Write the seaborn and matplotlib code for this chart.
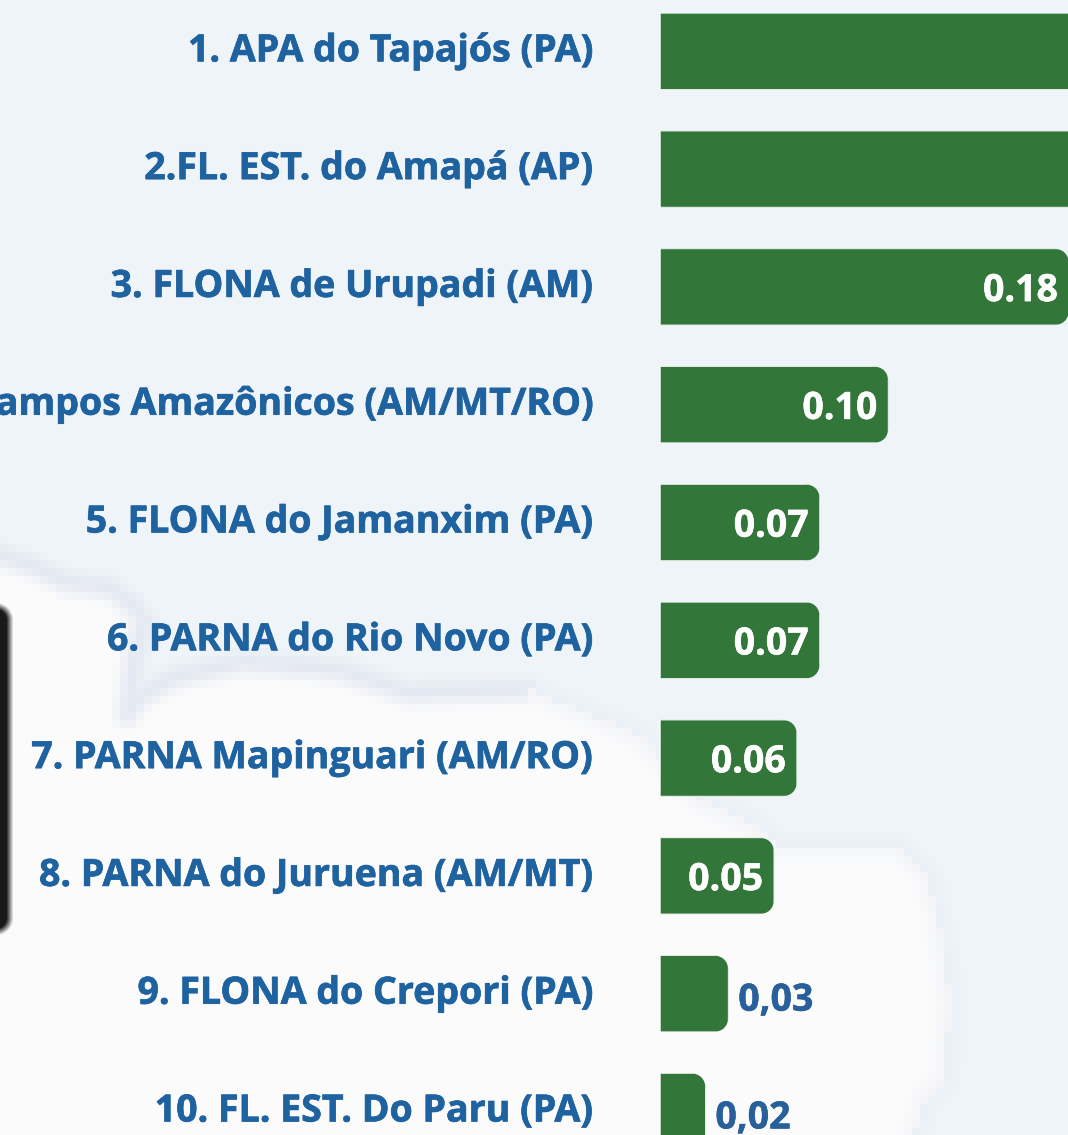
import numpy as np
import pandas as pd
import matplotlib
matplotlib.use("Agg")
import matplotlib.pyplot as plt
import matplotlib.patheffects as pe
import seaborn as sns
from matplotlib.path import Path
from matplotlib.patches import FancyBboxPatch
from matplotlib.transforms import IdentityTransform

# data
categories = [
    "1. APA do Tapajós (PA)",
    "2.FL. EST. do Amapá (AP)",
    "3. FLONA de Urupadi (AM)",
    "4. PARNA Campos Amazônicos (AM/MT/RO)",
    "5. FLONA do Jamanxim (PA)",
    "6. PARNA do Rio Novo (PA)",
    "7. PARNA Mapinguari (AM/RO)",
    "8. PARNA do Juruena (AM/MT)",
    "9. FLONA do Crepori (PA)",
    "10. FL. EST. Do Paru (PA)",
]
values = [0.25, 0.22, 0.179, 0.10, 0.07, 0.07, 0.06, 0.05, 0.03, 0.02]
value_labels = ["", "", "0.18", "0.10", "0.07", "0.07", "0.06", "0.05", "0,03", "0,02"]

W, H = 1068, 1135
BG = np.array([0xef, 0xf4, 0xf9]) / 255
LAND = np.array([0xfb, 0xfb, 0xfc]) / 255
EDGE = np.array([0xe2, 0xe6, 0xf0]) / 255
GREEN = "#327639"
BLUE = "#1f62a0"
PX_PER_UNIT = 2285
ZERO_X = 660
BAR_Y0, BAR_STEP, BAR_H = 51.3, 117.8, 76.8
PT = 0.72  # points per pixel at dpi 100

sns.set_theme(style="white")
plt.rcParams["font.family"] = ["Open Sans", "DejaVu Sans"]

df = pd.DataFrame({"area": categories, "value": values})

fig = plt.figure(figsize=(W / 100, H / 100), dpi=100)

# -------- BACKGROUND (blurry low-res map behind the chart) --------
ax_bg = fig.add_axes([0, 0, 1, 1])
ax_bg.axis("off")
outline = np.array([
    (-10, 552), (33, 567), (67, 583), (110, 588), (133, 607), (143, 620), (133, 660),
    (127, 715), (140, 697), (177, 677), (243, 663), (337, 670), (408, 693), (530, 690),
    (640, 735), (700, 800), (750, 823), (780, 847), (897, 847), (927, 873), (940, 927),
    (950, 1000), (945, 1080), (925, 1100), (912, 1145), (-10, 1145),
], dtype=float)
cell = 8
gx, gy = np.meshgrid(np.arange(cell / 2, W + cell, cell), np.arange(cell / 2, H + cell, cell))
pts = np.column_stack([gx.ravel(), gy.ravel()])
inside = Path(outline).contains_points(pts).reshape(gx.shape)
dist = np.full(gx.shape, 1e9)
strength = np.zeros(gx.shape)
for a, b in zip(outline[:-2], outline[1:-1]):
    ab = b - a
    t = np.clip(((gx - a[0]) * ab[0] + (gy - a[1]) * ab[1]) / (ab @ ab), 0, 1)
    d = np.hypot(gx - a[0] - t * ab[0], gy - a[1] - t * ab[1])
    s = 0.9 if a[0] < 420 else 0.3
    closer = d < dist
    dist[closer] = d[closer]
    strength[closer] = s
img = np.where(inside[..., None], LAND, BG)
band = (np.clip(1 - dist / 18, 0, 1) * strength)[..., None]
img = img * (1 - band) + EDGE * band
ax_bg.imshow(img, extent=(0, gx.shape[1] * cell, gy.shape[0] * cell, 0), aspect="auto",
             interpolation="nearest")

# blurred dark box cut off at the left edge
xx, yy = np.meshgrid(np.arange(0, 24) + 0.5, np.arange(590, 950) + 0.5)
qx = np.abs(xx + 50) - 46
qy = np.abs(yy - 769) - 149
sd = np.hypot(np.maximum(qx, 0), np.maximum(qy, 0)) + np.minimum(np.maximum(qx, qy), 0) - 14
shade = np.zeros(xx.shape + (4,))
shade[..., :3] = 0.1
shade[..., 3] = np.clip(0.5 - sd / 7, 0, 1)
ax_bg.imshow(shade, extent=(0, 24, 950, 590), aspect="auto", interpolation="bilinear")
ax_bg.set_xlim(0, W)
ax_bg.set_ylim(H, 0)

# -------- BARS --------
ax = fig.add_axes([0, 0, 1, 1])
ax.patch.set_alpha(0)
sns.barplot(data=df, x="value", y="area", color=GREEN, saturation=1, width=BAR_H / BAR_STEP, ax=ax)
ax.set_xlim(-ZERO_X / PX_PER_UNIT, (W - ZERO_X) / PX_PER_UNIT)
ax.set_ylim((H - BAR_Y0) / BAR_STEP, -BAR_Y0 / BAR_STEP)
ax.set_xlabel("")
ax.set_ylabel("")
ax.set_xticks([])
ax.set_yticks([])
sns.despine(ax=ax, left=True, bottom=True)

# rounded right corners
for bar in ax.patches:
    (x0, y0), (x1, y1) = ax.transData.transform(
        [(bar.get_x(), bar.get_y()), (bar.get_x() + bar.get_width(), bar.get_y() + bar.get_height())]
    )
    y0, y1 = min(y0, y1), max(y0, y1)
    r = 17
    clip = FancyBboxPatch((x0 - 30 + r, y0 + r), x1 - x0 + 30 - 2 * r, y1 - y0 - 2 * r,
                          boxstyle=f"round,pad={r},rounding_size={r}", transform=IdentityTransform())
    bar.set_snap(False)
    bar.set_clip_path(clip)

# category labels, right aligned left of the bars
for i, name in enumerate(categories):
    t = ax.annotate(name, xy=(0, i), xytext=(-67 * PT, 0), textcoords="offset points",
                    ha="right", va="center", fontsize=27, fontweight="bold", color=BLUE,
                    annotation_clip=False)
    t.set_path_effects([pe.withStroke(linewidth=0.5, foreground=BLUE)])

# value labels
for i, (v, txt) in enumerate(zip(values, value_labels)):
    if txt == "":
        continue
    inside_bar = v >= 0.05
    col = "white" if inside_bar else "#27609a"
    offset = (-8, -3) if inside_bar else (7, -5)
    t = ax.annotate(txt, xy=(v, i), xytext=offset, textcoords="offset points",
                    ha="right" if inside_bar else "left", va="center", fontsize=27,
                    fontweight="bold", color=col, annotation_clip=False)
    t.set_path_effects([pe.withStroke(linewidth=0.4, foreground=col)])

fig.savefig("out.png", dpi=100)
